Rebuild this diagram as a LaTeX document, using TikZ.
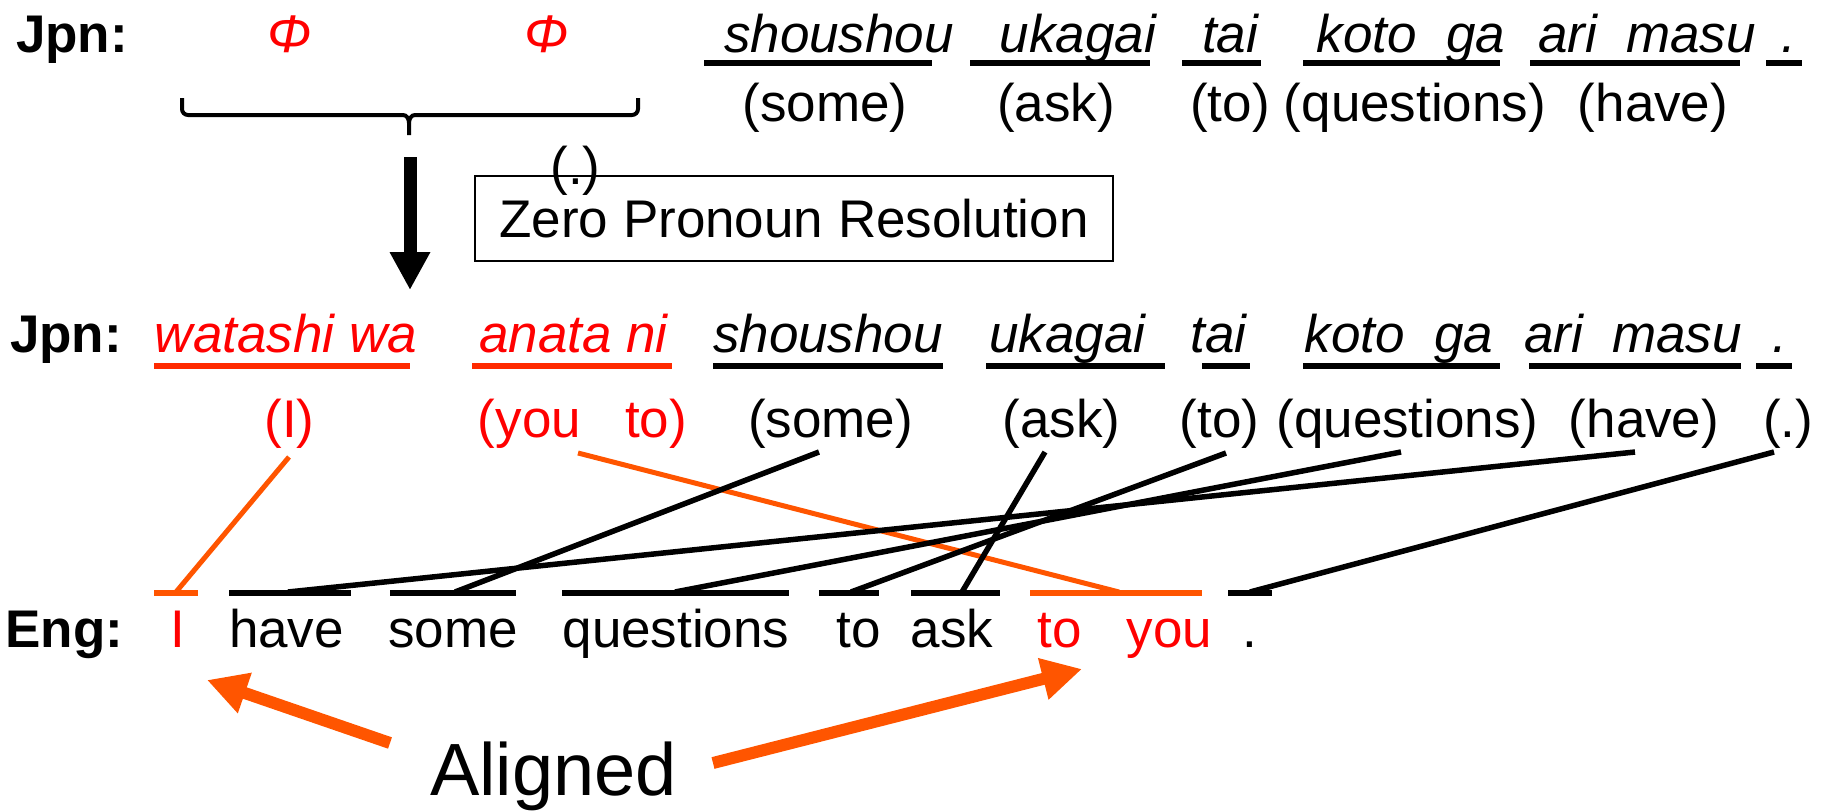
\documentclass[tikz,border=0pt]{standalone}
\usepackage{fontspec}
\setmainfont{Liberation Sans}
\usetikzlibrary{arrows.meta}
\definecolor{wordred}{RGB}{255,0,0}
\definecolor{linkred}{RGB}{255,42,0}
\definecolor{linkorange}{RGB}{255,85,0}

\begin{document}
\begin{tikzpicture}[x=1pt,y=-1pt,
  word/.style={anchor=base, inner sep=0pt, font=\fontsize{53}{60}\selectfont},
  jw/.style={word, font=\fontsize{53}{60}\selectfont\itshape},
  lab/.style={word, font=\fontsize{53}{60}\selectfont\bfseries},
  zero/.style={text=wordred},
  uline/.style={line width=6pt},
  link/.style={line width=5.5pt},
  zlink/.style={line width=5pt, draw=linkorange},
  bigarrow/.style={line width=12pt, linkorange, -{Triangle[length=40pt,width=40pt]}},
]
\useasboundingbox (0,0) rectangle (1829,811);

% ---- first Japanese line (with zero pronouns) ----
\node[lab] (j1lab) at (72,52) {Jpn:};
\node[jw,zero] (phi1) at (290,52) {Φ};
\node[jw,zero] (phi2) at (547,52) {Φ};
\node[jw] (a1) at (839,52) {shoushou};
\node[jw] (a2) at (1078,52) {ukagai};
\node[jw] (a3) at (1230,52) {tai};
\node[jw] (a4) at (1411,52) {koto\ \ ga};
\node[jw] (a5) at (1647,52) {ari\ \ masu};
\node[jw] (a6) at (1789,52) {.};
\draw[uline] (704,63) -- (932,63);
\draw[uline] (970,63) -- (1150,63);
\draw[uline] (1182,63) -- (1261,63);
\draw[uline] (1303,63) -- (1500,63);
\draw[uline] (1530,63) -- (1740,63);
\draw[uline] (1766,63) -- (1802,63);

\node[word] (b1) at (825,121) {(some)};
\node[word] (b2) at (1056,121) {(ask)};
\node[word] (b3) at (1230,121) {(to)};
\node[word] (b4) at (1415,121) {(questions)};
\node[word] (b5) at (1653,121) {(have)};

% brace over the two zero pronouns
\draw[line width=4pt]
  (182,98) -- (182,109) to[out=-90,in=180] (188,115) -- (403,115)
  to[out=0,in=90] (409,123) -- (409,135);
\draw[line width=4pt]
  (638,98) -- (638,109) to[out=-90,in=0] (632,115) -- (415,115)
  to[out=180,in=90] (409,123);

% resolution step
\coordinate (stepfrom) at (410,157);
\coordinate (stepto) at (410,290);
\draw[line width=13pt, -{Triangle[length=38pt,width=38pt]}] (stepfrom) -- (stepto);
\node[draw, line width=2pt, minimum width=638pt, minimum height=85pt, inner sep=0pt,
      font=\fontsize{53}{60}\selectfont] (zpr) at (794,218.5) {Zero Pronoun Resolution};
\node[word] (b6) at (575.5,184) {(.)};

% ---- second Japanese line (pronouns restored) ----
\node[lab] (j2lab) at (66,352) {Jpn:};
\node[jw,zero] (c1) at (286,352) {watashi wa};
\node[jw,zero] (c2) at (573.5,352) {anata ni};
\node[jw] (c3) at (828,352) {shoushou};
\node[jw] (c4) at (1067.5,352) {ukagai};
\node[jw] (c5) at (1218.5,352) {tai};
\node[jw] (c6) at (1399,352) {koto\ \ ga};
\node[jw] (c7) at (1633,352) {ari\ \ masu};
\node[jw] (c8) at (1780,352) {.};
\draw[uline, linkred] (154,366) -- (410,366);
\draw[uline, linkred] (472,366) -- (672,366);
\draw[uline] (713,366) -- (943,366);
\draw[uline] (986,366) -- (1165,366);
\draw[uline] (1202,366) -- (1250,366);
\draw[uline] (1303,366) -- (1500,366);
\draw[uline] (1529,366) -- (1741,366);
\draw[uline] (1756,366) -- (1792,366);

\node[word,zero] (d1) at (289.5,437) {(I)};
\node[word,zero] (d2) at (582.5,437) {(you\ \ \ to)};
\node[word] (d3) at (830.5,437) {(some)};
\node[word] (d4) at (1061.5,437) {(ask)};
\node[word] (d5) at (1219.5,437) {(to)};
\node[word] (d6) at (1407.5,437) {(questions)};
\node[word] (d7) at (1644,437) {(have)};
\node[word] (d8) at (1788,437) {(.)};

% ---- English line ----
\node[lab] (elab) at (64.5,647) {Eng:};
\node[word,zero] (e1) at (177.5,647) {I};
\node[word] (e2) at (286.5,647) {have};
\node[word] (e3) at (453,647) {some};
\node[word] (e4) at (676,647) {questions};
\node[word] (e5) at (858.5,647) {to};
\node[word] (e6) at (952,647) {ask};
\node[word,zero] (e7) at (1060,647) {to};
\node[word,zero] (e8) at (1169.5,647) {you};
\node[word] (e9) at (1250,647) {.};
\draw[uline, linkorange] (154,593) -- (198,593);
\draw[uline] (229,593) -- (351,593);
\draw[uline] (390,593) -- (516,593);
\draw[uline] (562,593) -- (789,593);
\draw[uline] (819,593) -- (879,593);
\draw[uline] (911,593) -- (1000,593);
\draw[uline, linkorange] (1030,593) -- (1202,593);
\draw[uline] (1228,593) -- (1272,593);

% alignment link end points
\coordinate (gI)    at (289,457);
\coordinate (gYou)  at (578,453);
\coordinate (gSome) at (819,452);
\coordinate (gAsk)  at (1045,452);
\coordinate (gTo)   at (1226,453);
\coordinate (gQ)    at (1401,452);
\coordinate (gHave) at (1635,452);
\coordinate (gDot)  at (1774,452);
\coordinate (eI)    at (176,592);
\coordinate (eYou)  at (1119,592);
\coordinate (eSome) at (455,592);
\coordinate (eAsk)  at (962,592);
\coordinate (eTo)   at (851,592);
\coordinate (eQ)    at (675,592);
\coordinate (eHave) at (288,592);
\coordinate (eDot)  at (1250,592);

\draw[zlink] (gI) -- (eI);
\draw[zlink] (gYou) -- (eYou);
\draw[link] (gSome) -- (eSome);
\draw[link] (gAsk) -- (eAsk);
\draw[link] (gTo) -- (eTo);
\draw[link] (gQ) -- (eQ);
\draw[link] (gHave) -- (eHave);
\draw[link] (gDot) -- (eDot);

% ---- "Aligned" callout ----
\node[anchor=base, inner sep=0pt, font=\fontsize{74}{80}\selectfont] (aligned) at (553.5,795) {Aligned};
\coordinate (al1) at (390,743);
\coordinate (tipI) at (207,680);
\coordinate (al2) at (713,763);
\coordinate (tipYou) at (1082,669);
\draw[bigarrow] (al1) -- (tipI);
\draw[bigarrow] (al2) -- (tipYou);
\end{tikzpicture}
\end{document}
